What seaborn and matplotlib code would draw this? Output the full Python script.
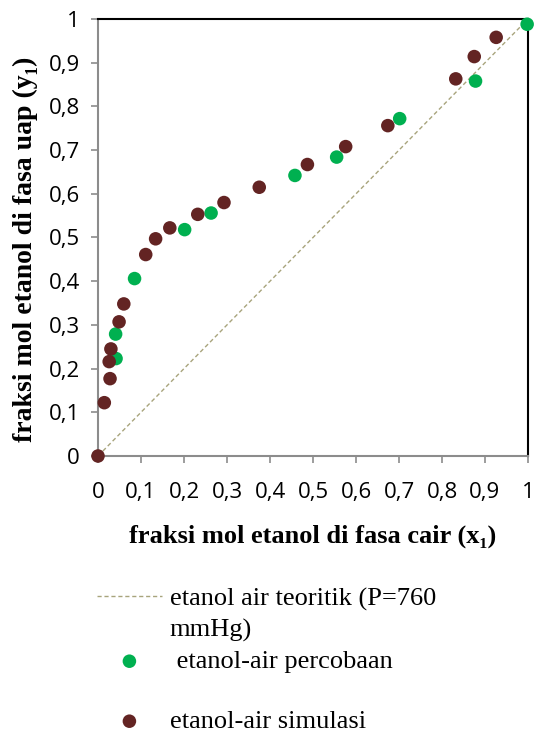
import matplotlib
matplotlib.use("Agg")
import matplotlib.pyplot as plt
import seaborn as sns
import pandas as pd
import numpy as np
from matplotlib.ticker import FuncFormatter, MultipleLocator

# ---- data ----
teori_x = [0.0, 1.0]
teori_y = [0.0, 1.0]

exp_x = [0.042, 0.041, 0.085, 0.2015, 0.263, 0.458, 0.555, 0.7016, 0.878, 0.998]
exp_y = [0.223, 0.279, 0.406, 0.518, 0.556, 0.642, 0.684, 0.772, 0.858, 0.988]

sim_x = [0.0, 0.0147, 0.028, 0.026, 0.030, 0.049, 0.060, 0.111, 0.134, 0.167,
         0.232, 0.293, 0.375, 0.487, 0.576, 0.674, 0.832, 0.875, 0.926]
sim_y = [0.0, 0.122, 0.177, 0.216, 0.245, 0.307, 0.348, 0.461, 0.497, 0.522,
         0.553, 0.580, 0.615, 0.667, 0.708, 0.756, 0.863, 0.914, 0.958]

lbl_teori = "etanol air teoritik (P=760\nmmHg)"
lbl_exp = " etanol-air percobaan"
lbl_sim = "\netanol-air simulasi"
xlabel = "fraksi mol etanol di fasa cair (x\u2081)"
ylabel = "fraksi mol etanol di fasa uap (y\u2081)"

GREEN = "#00B050"
BROWN = "#632423"
LINEC = "#A8A47C"
SERIF = ["Liberation Serif", "DejaVu Serif"]

sns.set_theme(style="white")
plt.rcParams['font.family'] = ['Open Sans', 'DejaVu Sans']
plt.rcParams['text.color'] = 'black'
plt.rcParams['axes.labelcolor'] = 'black'

fig = plt.figure(figsize=(5.34, 7.34), dpi=100)
ax = fig.add_axes([98/534, 1-456/734, 430/534, 437/734])

df_t = pd.DataFrame({"x": teori_x, "y": teori_y})
df_e = pd.DataFrame({"x": exp_x, "y": exp_y})
df_s = pd.DataFrame({"x": sim_x, "y": sim_y})

sns.lineplot(data=df_t, x="x", y="y", ax=ax, color=LINEC, lw=1.0,
             linestyle=(0, (3, 2)), label=lbl_teori)
sns.scatterplot(data=df_e, x="x", y="y", ax=ax, color=GREEN, s=95,
                edgecolor="none", label=lbl_exp, clip_on=False, zorder=3)
sns.scatterplot(data=df_s, x="x", y="y", ax=ax, color=BROWN, s=95,
                edgecolor="none", label=lbl_sim, clip_on=False, zorder=4)

ax.set_xlim(0, 1)
ax.set_ylim(0, 1)
ax.xaxis.set_major_locator(MultipleLocator(0.1))
ax.yaxis.set_major_locator(MultipleLocator(0.1))
fmt = FuncFormatter(lambda v, p: ("%g" % round(v, 1)).replace(".", ","))
ax.xaxis.set_major_formatter(fmt)
ax.yaxis.set_major_formatter(fmt)

for s in ["left", "bottom"]:
    ax.spines[s].set_color("#8c8c8c")
    ax.spines[s].set_linewidth(1.5)
for s in ["top", "right"]:
    ax.spines[s].set_color("#000000")
    ax.spines[s].set_linewidth(1.5)

ax.tick_params(axis="both", which="major", direction="out", length=5,
               width=1.2, color="#8c8c8c", labelsize=16, labelcolor="#000000")
ax.tick_params(axis="x", pad=14, bottom=True)
ax.tick_params(axis="y", pad=8, left=True)

ax.set_xlabel(xlabel, fontsize=19, fontweight="bold", family=SERIF,
              labelpad=15, color="black")
ax.set_ylabel(ylabel, fontsize=20, fontweight="bold", family=SERIF,
              labelpad=8, color="black")
ax.yaxis.label.set_y(0.474)

FS = 19
leg = ax.legend(loc="upper left", bbox_to_anchor=(-0.027, -0.277),
                frameon=False, handlelength=2.46, handletextpad=0.3,
                labelspacing=0.3, borderaxespad=0,
                prop={"family": SERIF, "size": FS})
for t in leg.get_texts():
    t.set_linespacing(1.45)
    t.set_color("black")
# line sample beside the first line of its two-line label
line_h = leg.legend_handles[0]
yd = np.asarray(line_h.get_ydata(), dtype=float)
line_h.set_ydata(yd + 0.72 * FS * 1.45 / 1.2 * 0.8)
# simulasi dot beside its text line
sim_h = leg.legend_handles[2]
off = np.asarray(sim_h.get_offsets(), dtype=float)
sim_h.set_offsets(off - np.array([0.0, 0.5 * FS * 1.45 / 1.2 * 0.8]))

fig.savefig("out.png", dpi=100)
